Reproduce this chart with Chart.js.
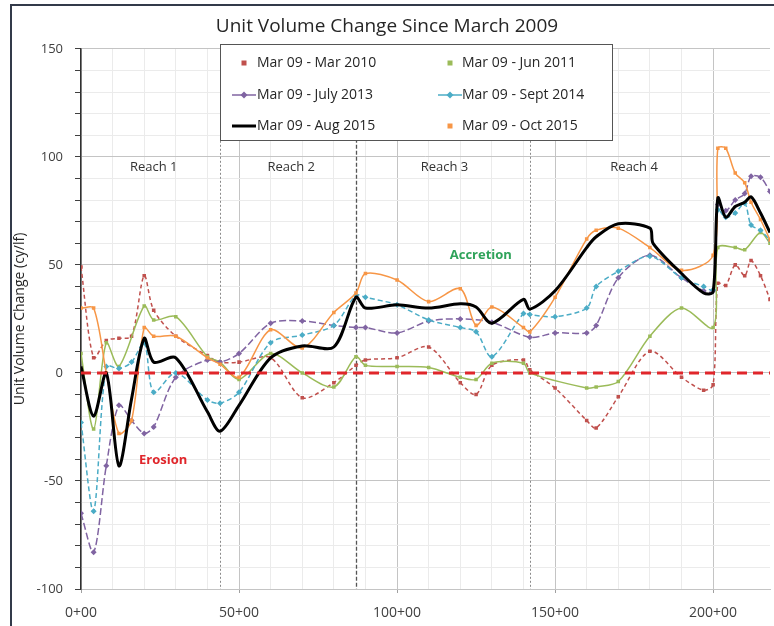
<!DOCTYPE html>
<html><head><meta charset="utf-8">
<script src="https://cdn.jsdelivr.net/npm/chart.js@4/dist/chart.umd.min.js"></script>
<style>html,body{margin:0;padding:0;background:#fff;}#wrap{width:774px;height:626px;position:relative;}</style>
</head><body><div id="wrap"><canvas id="c" width="774" height="626"></canvas></div>
<script>
const chartTitle = 'Unit Volume Change Since March 2009';
const yAxisTitle = 'Unit Volume Change (cy/lf)';
const seriesLabels = ['Mar 09 - Mar 2010','Mar 09 - Jun 2011','Mar 09 - July 2013','Mar 09 - Sept 2014','Mar 09 - Aug 2015','Mar 09 - Oct 2015'];
const stations = [0,4,8,12,16,20,23,30,40,44,50,60,70,80,87,90,100,110,120,125,130,140,142,150,160,163,170,180,181,190,197,200,201.5,204,207,210,212,215,218];
const mar2010 = [49,7,15,16,17,45,29,17,8,5, 5,7,-11.5,-4.5,3.5,6,7,12,-4.5,-10, 3.5,6,1.5,-7,-22,-25.5,-11,10,null,-2, -8,-5.5,41.5,40.5,50,45,52,45,34];
const jun2011 = [9,-26,14,3,null,31,24.5,26,7.5,5, -3,9,0,-6.5,7.5,3.5,3,2.5,-2,-3, 4.5,4.5,0,null,-7,-6.5,-4,17,null,30, null,21,58,null,58,57,null,65,60];
const jul2013 = [-65,-83,-43,-15,-22,-28,-25,-2,6,5, 9,23,24,22,21,21,18.5,24,25,null, 23.5,null,16.5,18.5,18.5,22,44,54.5,null,44, 38,38,78,75,80,83,91,90.5,84];
const sep2014 = [-23,-64,3,2,5,14,-9,0,-12.5,-14, -9,14,17.5,22,36,35,31.5,24.5,21,19, 7.5,27.5,27,26,30,40,47,54,null,44, 40,38.5,75.5,72,74,78.5,68.5,66,61.5];
const aug2015 = [3,-20,0,-43,-12,16,5,7,-18,-27, -15,7,12.5,12,35,30,31.5,30,32,30.5, 23,34,29.5,38,58,63,69,67,60,46, 37,37.5,81,72,77,79,81.5,74,65];
const oct2015 = [30,30,0,-28,-22,21,17,17,7,4, -2,20,11.5,28,37,46,43,33,39,22, 30.5,21,19,35,62,66,67,58,null,47.5, null,54.5,104,104,92.5,88,79,71,61.5];
const zeroLineX = [0,218];
const zeroLineY = [0,0];
const xMajor = [0,50,100,150,200];
const xTickLabels = ['0+00','50+00','100+00','150+00','200+00'];
const yMajor = [-100,-50,0,50,100,150];
const yTickLabels = ['-100','-50','0','50','100','150'];
const reachBounds = [44,87,142];
const reachLabels = ['Reach 1','Reach 2','Reach 3','Reach 4'];
const reachLabelX = [23,66.5,115,175];
const reachLabelY = [95,95,95,95];
const noteLabels = ['Accretion','Erosion'];
const noteX = [126.5,26];
const noteY = [54.5,-40.5];

const FONT = "'Open Sans', 'DejaVu Sans', sans-serif";
function pts(xs, vals){ return xs.map((s,i)=>({x:s,y:vals[i]})).filter(p=>p.y!==null); }

const styles = {
  red:    {color:'#c0504d', dash:[4,3], width:1.5, point:'rect', r:2.5},
  green:  {color:'#9bbb59', dash:[], width:1.5, point:'rect', r:2.5},
  purple: {color:'#8064a2', dash:[7,3], width:1.5, point:'rectRot', r:3},
  teal:   {color:'#4bacc6', dash:[5,3], width:1.5, point:'rectRot', r:3},
  black:  {color:'#000000', dash:[], width:3, point:'circle', r:0},
  orange: {color:'#f79646', dash:[], width:1.5, point:'rect', r:2.5}
};
function ds(label, vals, st){
  return {label, data: pts(stations, vals), borderColor: st.color, backgroundColor: st.color,
    borderWidth: st.width, borderDash: st.dash, pointStyle: st.point, pointRadius: st.r,
    pointBorderWidth: 0, tension: 0.3, fill:false, spanGaps:true};
}
const datasets = [
  {label:'zero', data: pts(zeroLineX, zeroLineY), borderColor:'#e0262b', borderWidth:3, borderDash:[10,6], pointRadius:0, fill:false},
  ds(seriesLabels[4], aug2015, styles.black),
  ds(seriesLabels[5], oct2015, styles.orange),
  ds(seriesLabels[3], sep2014, styles.teal),
  ds(seriesLabels[2], jul2013, styles.purple),
  ds(seriesLabels[1], jun2011, styles.green),
  ds(seriesLabels[0], mar2010, styles.red)
];
const legendStyles = [styles.red, styles.green, styles.purple, styles.teal, styles.black, styles.orange];

const framePlugin = {
  id:'frame',
  beforeDraw(chart){
    const c = chart.ctx; c.save();
    c.fillStyle='#fff'; c.fillRect(0,0,chart.width,chart.height);
    c.strokeStyle='#333a4a'; c.lineWidth=2;
    c.beginPath(); c.moveTo(11,chart.height); c.lineTo(11,5); c.lineTo(chart.width,5); c.stroke();
    c.restore();
  }
};
const boundsPlugin = {
  id:'bounds',
  beforeDatasetsDraw(chart){
    const c = chart.ctx, a = chart.chartArea, xs = chart.scales.x;
    c.save();
    reachBounds.forEach((b,i)=>{
      const x = Math.round(xs.getPixelForValue(b))+0.5;
      c.strokeStyle = i===1 ? '#555' : '#8a8a8a';
      c.lineWidth = i===1 ? 1.3 : 1;
      c.setLineDash(i===1 ? [4,2] : [2,2]);
      c.beginPath(); c.moveTo(x,a.top); c.lineTo(x,a.bottom); c.stroke();
    });
    c.restore();
  },
  afterDatasetsDraw(chart){
    const c = chart.ctx, xs = chart.scales.x, ys = chart.scales.y;
    c.save(); c.textAlign='center'; c.textBaseline='middle';
    c.font = "13px "+FONT; c.fillStyle='#333';
    reachLabels.forEach((t,i)=> c.fillText(t, xs.getPixelForValue(reachLabelX[i]), ys.getPixelForValue(reachLabelY[i])));
    c.font = "bold 13px "+FONT;
    const noteColors = ['#2fa35a','#e0262b'];
    noteLabels.forEach((t,i)=>{ c.fillStyle=noteColors[i]; c.fillText(t, xs.getPixelForValue(noteX[i]), ys.getPixelForValue(noteY[i])); });
    c.restore();
  }
};
const legendPlugin = {
  id:'boxLegend',
  afterDraw(chart){
    const c = chart.ctx; c.save();
    const L=220, T=44, R=612, B=140;
    c.fillStyle='#fff'; c.fillRect(L,T,R-L,B-T);
    c.strokeStyle='#555'; c.lineWidth=1; c.strokeRect(L+0.5,T+0.5,R-L,B-T);
    const colM=[244,450], colT=[257,462], rowY=[63,95,126];
    c.font = "14px "+FONT; c.textBaseline='middle'; c.textAlign='left';
    seriesLabels.forEach((lab,i)=>{
      const st = legendStyles[i], col=i%2, row=Math.floor(i/2);
      const mx=colM[col], my=rowY[row];
      c.strokeStyle=st.color; c.fillStyle=st.color; c.setLineDash([]);
      if(st.point==='rectRot'){
        c.lineWidth=1.5; c.beginPath(); c.moveTo(mx-12,my); c.lineTo(mx+12,my); c.stroke();
        c.beginPath(); c.moveTo(mx,my-3.5); c.lineTo(mx+3.5,my); c.lineTo(mx,my+3.5); c.lineTo(mx-3.5,my); c.closePath(); c.fill();
      } else if(st.r===0){
        c.lineWidth=3; c.beginPath(); c.moveTo(mx-12,my); c.lineTo(mx+12,my); c.stroke();
      } else {
        c.fillRect(mx-2.5,my-2.5,5,5);
      }
      c.fillStyle='#262626';
      c.fillText(lab, colT[col], my);
    });
    c.restore();
  }
};

new Chart(document.getElementById('c'), {
  type:'line',
  data:{datasets},
  options:{
    responsive:false, animation:false, devicePixelRatio:1,
    layout:{padding:{left:0,right:0,top:0,bottom:0}},
    plugins:{
      legend:{display:false}, tooltip:{enabled:false},
      title:{display:true, text:chartTitle, color:'#262626', font:{family:FONT, size:19, weight:'normal'}, padding:{top:15,bottom:11}}
    },
    scales:{
      x:{type:'linear', min:0, max:218,
        afterFit(s){ s.height = 37; },
        afterBuildTicks(s){ s.ticks = s.ticks.filter(t=> t.value % 10 === 0); },
        ticks:{stepSize:10, autoSkip:false, maxRotation:0, padding:12, color:'#404040',
          font:{family:FONT, size:14},
          callback(v){ const k = xMajor.indexOf(v); return k>=0 ? xTickLabels[k] : ''; }},
        grid:{color:(ctx)=> ctx.tick && ctx.tick.value % 50 === 0 ? '#c4c4c4' : '#ebebeb',
          tickLength:4, tickColor:(ctx)=> ctx.tick && ctx.tick.value % 50 === 0 ? '#a0a0a0' : 'rgba(0,0,0,0)'},
        border:{color:'#c4c4c4'}
      },
      y:{min:-100, max:150,
        afterFit(s){ s.width = 81; },
        ticks:{stepSize:10, autoSkip:false, padding:12, color:'#404040',
          font:{family:FONT, size:13},
          callback(v){ const k = yMajor.indexOf(v); return k>=0 ? yTickLabels[k] : ''; }},
        grid:{color:(ctx)=> ctx.tick && ctx.tick.value % 50 === 0 ? '#c4c4c4' : '#ebebeb',
          tickLength:6, tickColor:'#404040'},
        border:{color:'#303030', width:1.5},
        title:{display:true, text:yAxisTitle, color:'#262626', font:{family:FONT, size:14}, padding:{top:12,bottom:0}}
      }
    }
  },
  plugins:[framePlugin, boundsPlugin, legendPlugin]
});
</script></body></html>
